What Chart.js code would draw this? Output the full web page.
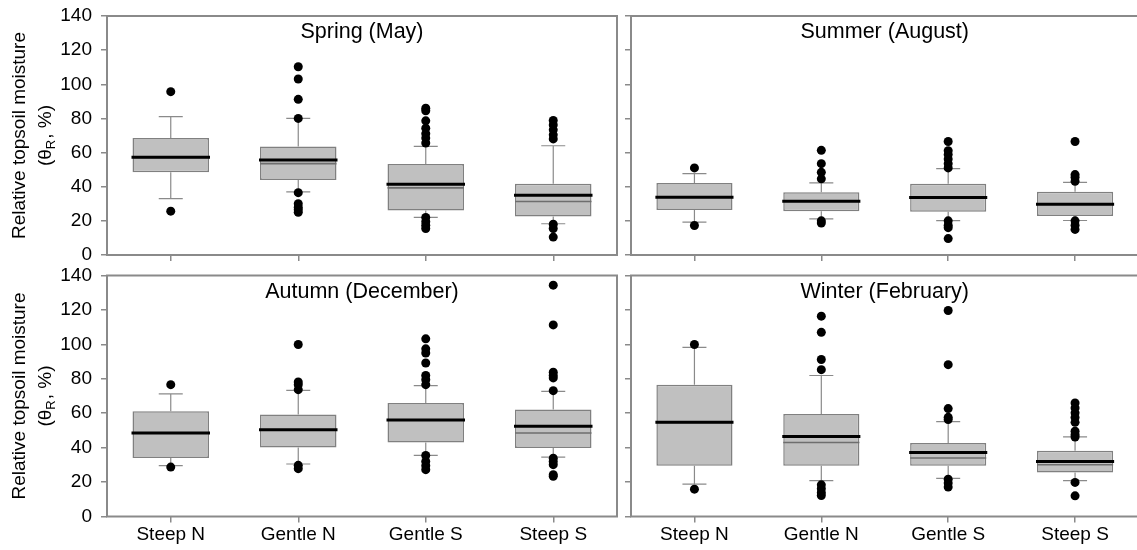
<!DOCTYPE html>
<html>
<head>
<meta charset="utf-8">
<script src="https://cdn.jsdelivr.net/npm/chart.js@4.4.1/dist/chart.umd.min.js"></script>
<style>
  html, body { margin: 0; overflow: hidden; }
  body { width: 1137px; height: 550px; background: #fff; position: relative; }
  .panel { position: absolute; }
  #springBox { left: 0; top: 0; width: 625px; height: 267px; }
  #summerBox { left: 600px; top: 0; width: 543px; height: 267px; }
  #autumnBox { left: 0; top: 262px; width: 625px; height: 288px; }
  #winterBox { left: 600px; top: 262px; width: 543px; height: 288px; }
</style>
</head>
<body>
<div class="panel" id="springBox"><canvas id="spring" width="625" height="267"></canvas></div>
<div class="panel" id="summerBox"><canvas id="summer" width="543" height="267"></canvas></div>
<div class="panel" id="autumnBox"><canvas id="autumn" width="625" height="288"></canvas></div>
<div class="panel" id="winterBox"><canvas id="winter" width="543" height="288"></canvas></div>
<script>
const categories = ['Steep N', 'Gentle N', 'Gentle S', 'Steep S'];
const yTicks = [0, 20, 40, 60, 80, 100, 120, 140];

// Spring (May)
const springLow = [33, 37, 22, 18.3];
const springQ1 = [48.4, 44, 26, 22.6];
const springMedian = [57.2, 55.6, 41.5, 35];
const springMean = [57.2, 53.5, 39.3, 31.3];
const springQ3 = [68.5, 63.6, 53.3, 41.8];
const springHigh = [81, 80, 63.6, 64];
const springOutliers = [
  [95.7, 25.7],
  [110.3, 103.1, 91.2, 80, 36.5, 30, 28, 26.5, 25],
  [86, 84.5, 78.6, 74.3, 71, 68.5, 65.6, 22, 19.5, 17.5, 15.5],
  [78.8, 76.2, 73.3, 70.4, 68, 18, 15.5, 10.5]
];

// Summer (August)
const summerLow = [19.3, 21.2, 20.1, 20.2];
const summerQ1 = [26.3, 25.7, 25.3, 22.8];
const summerMedian = [33.8, 31.5, 33.7, 29.8];
const summerMean = [33.8, 31.5, 33.7, 29.8];
const summerQ3 = [42.2, 36.8, 41.8, 37];
const summerHigh = [47.7, 42.2, 50.6, 42.6];
const summerOutliers = [
  [51, 17.3],
  [61.3, 53.5, 48.4, 44.6, 20, 18.7],
  [66.5, 61.1, 58.8, 56.2, 53.5, 51, 20, 17.5, 16, 9.6],
  [66.5, 47.1, 45.6, 43.2, 20, 17.4, 15]
];

// Autumn (December)
const autumnLow = [29.5, 30.5, 35.5, 34.5];
const autumnQ1 = [34, 40.1, 43, 39.8];
const autumnMedian = [48.5, 50.4, 56.1, 52.4];
const autumnMean = [48.5, 50.4, 56.1, 48.5];
const autumnQ3 = [61.1, 59.2, 66, 62.1];
const autumnHigh = [71.2, 73.3, 76, 72.7];
const autumnOutliers = [
  [76.6, 28.7],
  [99.9, 78.2, 76.6, 73.7, 29.7, 27.8],
  [103.2, 97.4, 95, 89.2, 81.9, 79.5, 76.6, 35.5, 32, 29.5, 27.2],
  [134.4, 111.3, 83.8, 81.9, 80.5, 73.1, 33.9, 32, 30.1, 24.3, 23.4]
];

// Winter (February)
const winterLow = [18.8, 20.8, 22.1, 20.8];
const winterQ1 = [29.5, 29.5, 29.5, 25.6];
const winterMedian = [54.7, 46.5, 37.2, 32];
const winterMean = [54.7, 43, 34, 30.1];
const winterQ3 = [76.6, 59.6, 42.7, 38.2];
const winterHigh = [98.3, 81.9, 55.1, 46.2];
const winterOutliers = [
  [99.9, 15.9],
  [116.4, 107, 91.2, 85.3, 18.4, 16.1, 13.8, 12.2],
  [119.7, 88.2, 62.7, 57.6, 56.3, 21.7, 19.4, 17.1],
  [66, 63.1, 60.2, 57.5, 54.7, 49.5, 47.5, 46.2, 19.8, 12]
];

const FONT = '"Liberation Sans", Arial, sans-serif';
const frameColor = '#8a8a8a';

const panels = [
  { id: 'spring', title: 'Spring (May)', low: springLow, q1: springQ1, median: springMedian, mean: springMean, q3: springQ3, high: springHigh, outliers: springOutliers, left: true, bottom: false },
  { id: 'summer', title: 'Summer (August)', low: summerLow, q1: summerQ1, median: summerMedian, mean: summerMean, q3: summerQ3, high: summerHigh, outliers: summerOutliers, left: false, bottom: false },
  { id: 'autumn', title: 'Autumn (December)', low: autumnLow, q1: autumnQ1, median: autumnMedian, mean: autumnMean, q3: autumnQ3, high: autumnHigh, outliers: autumnOutliers, left: true, bottom: true },
  { id: 'winter', title: 'Winter (February)', low: winterLow, q1: winterQ1, median: winterMedian, mean: winterMean, q3: winterQ3, high: winterHigh, outliers: winterOutliers, left: false, bottom: true }
];

// whiskers, caps, median/mean lines, frame, panel title and y title
function boxExtras(p) {
  return {
    id: 'boxExtras',
    afterDatasetDraw(chart, args) {
      if (args.index !== 0) return;
      const ctx = chart.ctx;
      const x = chart.scales.x, y = chart.scales.y;
      const bars = chart.getDatasetMeta(0).data;
      ctx.save();
      categories.forEach((c, i) => {
        const cx = x.getPixelForValue(i);
        const half = bars[i].width / 2;
        ctx.strokeStyle = frameColor;
        ctx.lineWidth = 1.2;
        ctx.beginPath();
        ctx.moveTo(cx, y.getPixelForValue(p.q3[i]));
        ctx.lineTo(cx, y.getPixelForValue(p.high[i]));
        ctx.moveTo(cx, y.getPixelForValue(p.q1[i]));
        ctx.lineTo(cx, y.getPixelForValue(p.low[i]));
        ctx.moveTo(cx - 12, y.getPixelForValue(p.high[i]));
        ctx.lineTo(cx + 12, y.getPixelForValue(p.high[i]));
        ctx.moveTo(cx - 12, y.getPixelForValue(p.low[i]));
        ctx.lineTo(cx + 12, y.getPixelForValue(p.low[i]));
        ctx.stroke();
        // mean
        ctx.strokeStyle = '#6e6e6e';
        ctx.lineWidth = 1.6;
        ctx.beginPath();
        ctx.moveTo(cx - half, y.getPixelForValue(p.mean[i]));
        ctx.lineTo(cx + half, y.getPixelForValue(p.mean[i]));
        ctx.stroke();
        // median
        ctx.strokeStyle = '#000';
        ctx.lineWidth = 3;
        ctx.beginPath();
        ctx.moveTo(cx - half - 1, y.getPixelForValue(p.median[i]));
        ctx.lineTo(cx + half + 1, y.getPixelForValue(p.median[i]));
        ctx.stroke();
      });
      ctx.restore();
    },
    afterDraw(chart) {
      const ctx = chart.ctx;
      const a = chart.chartArea;
      ctx.save();
      ctx.strokeStyle = frameColor;
      ctx.lineWidth = 2;
      ctx.strokeRect(a.left, a.top, a.right - a.left, a.bottom - a.top);

      ctx.fillStyle = '#000';
      ctx.font = '21.5px ' + FONT;
      ctx.textAlign = 'center';
      ctx.textBaseline = 'alphabetic';
      ctx.fillText(p.title, (a.left + a.right) / 2, a.top + 22);

      if (p.left) {
        const cy = (a.top + a.bottom) / 2;
        ctx.translate(0, cy);
        ctx.rotate(-Math.PI / 2);
        ctx.font = '19px ' + FONT;
        ctx.textBaseline = 'middle';
        ctx.textAlign = 'center';
        ctx.fillText('Relative topsoil moisture', 0, 20);
        // second line with subscript
        const big = '19px ' + FONT, small = '13px ' + FONT;
        ctx.font = big;
        const w1 = ctx.measureText('(θ').width;
        const w3 = ctx.measureText(', %)').width;
        ctx.font = small;
        const w2 = ctx.measureText('R').width + 1;
        let sx = -(w1 + w2 + w3) / 2;
        ctx.textAlign = 'left';
        ctx.font = big;
        ctx.fillText('(θ', sx, 46);
        ctx.font = small;
        ctx.fillText('R', sx + w1, 51);
        ctx.font = big;
        ctx.fillText(', %)', sx + w1 + w2, 46);
      }
      ctx.restore();
    }
  };
}

panels.forEach(p => {
  new Chart(document.getElementById(p.id), {
    type: 'bar',
    data: {
      labels: categories,
      datasets: [{
        data: p.q1.map((v, i) => [v, p.q3[i]]),
        backgroundColor: '#c0c0c0',
        borderColor: '#808080',
        borderWidth: 1.5,
        borderSkipped: false,
        barPercentage: 0.6,
        categoryPercentage: 1,
        order: 2
      }, {
        type: 'line',
        showLine: false,
        data: p.outliers.flatMap((vals, i) => vals.map(v => ({ x: categories[i], y: v }))),
        pointRadius: 4.5,
        pointBackgroundColor: '#000',
        pointBorderColor: '#000',
        pointBorderWidth: 0,
        order: 1
      }]
    },
    options: {
      responsive: false,
      animation: false,
      layout: {
        padding: { top: p.bottom ? 13.5 : 16, right: p.left ? 8 : 0, left: 0, bottom: 0 }
      },
      plugins: { legend: { display: false }, tooltip: { enabled: false } },
      scales: {
        x: {
          offset: true,
          border: { display: false },
          grid: { offset: false, drawOnChartArea: false, tickLength: 6, color: frameColor, lineWidth: 1.5 },
          ticks: { display: p.bottom, color: '#000', font: { family: FONT, size: 19 }, padding: 1, maxRotation: 0 },
          afterFit: s => { s.height = p.bottom ? 33.5 : 12; s.paddingLeft = 0; s.paddingRight = 0; }
        },
        y: {
          min: 0,
          max: 140,
          afterBuildTicks: s => { s.ticks = yTicks.map(v => ({ value: v })); },
          border: { display: false },
          grid: { drawOnChartArea: false, tickLength: 6, color: frameColor, lineWidth: 1.5 },
          ticks: { display: p.left, color: '#000', font: { family: FONT, size: 19 }, padding: 9 },
          afterFit: s => { s.width = p.left ? 107 : 31; s.paddingTop = 0; s.paddingBottom = 0; }
        }
      }
    },
    plugins: [boxExtras(p)]
  });
});
</script>
</body>
</html>
